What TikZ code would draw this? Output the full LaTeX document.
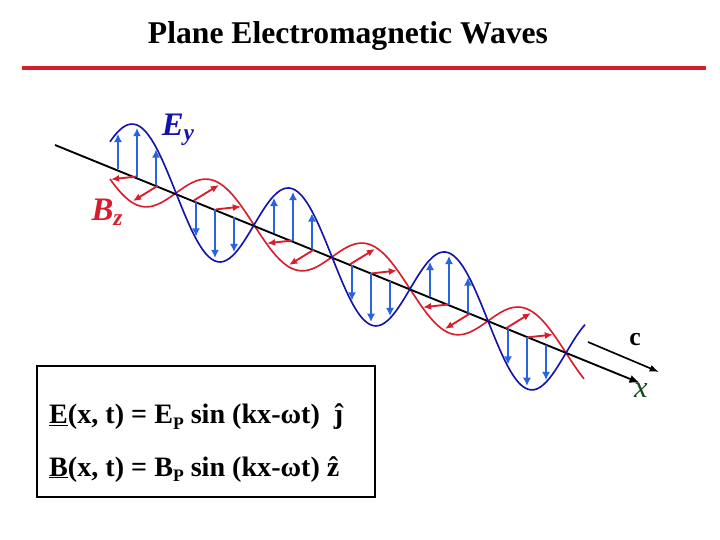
\documentclass[tikz,border=0pt]{standalone}
\usepackage{fontspec}
\setmainfont{Liberation Serif}
\usetikzlibrary{arrows.meta}
\definecolor{eblue}{RGB}{20,20,170}
\definecolor{ablue}{RGB}{40,100,220}
\definecolor{bred}{RGB}{215,30,45}
\definecolor{xgreen}{RGB}{20,70,20}
\begin{document}
\begin{tikzpicture}[x=0.03cm,y=-0.03cm,
  ecurve/.style={eblue,line width=1.4pt},
  bcurve/.style={bred,line width=1.4pt},
  earrow/.style={ablue,line width=2.3pt,-{Latex[length=7pt,width=7pt]}},
  barrow/.style={bred,line width=1.6pt,-{Latex[length=7pt,width=6pt]}},
  lbl/.style={inner sep=0pt}]
\useasboundingbox (0,0) rectangle (720,540);
\node[lbl] (title) at (348,36) {\fontsize{27pt}{30pt}\selectfont\bfseries Plane Electromagnetic Waves};
\coordinate (r1) at (22,68); \coordinate (r2) at (706,68);
\draw[bred,line width=3pt] (r1) -- (r2);
% red B curve
\draw[bcurve,domain=110:584,samples=160,smooth] plot (\x,{193+0.41*(\x-176)-28*sin(2.30769*(\x-176))});
% axis
\coordinate (a0) at (55,145); \coordinate (a1) at (640,383);
\draw[line width=1.6pt,-{Latex[length=9pt,width=7pt]}] (a0) -- (a1);
\draw[ecurve,domain=110:585,samples=160,smooth] plot (\x,{193+0.41*(\x-176)+52*sin(2.30769*(\x-176))});
% E arrows
\foreach \n in {98,176,254,332,410,488}{
  \foreach \o in {20,39,58}{
    \pgfmathsetmacro{\xx}{\n+\o}
    \pgfmathsetmacro{\yy}{193+0.41*(\xx-176)}
    \pgfmathsetmacro{\yt}{\yy+49*sin(2.30769*(\xx-176))}
    \coordinate (eb) at (\xx,\yy); \coordinate (et) at (\xx,\yt);
    \draw[earrow] (eb) -- (et);
  }
}
% B arrows pointing left-down
\foreach \n in {98,254,410}{
  \foreach \o in {38,60}{
    \pgfmathsetmacro{\xx}{\n+\o}
    \pgfmathsetmacro{\yy}{193+0.41*(\xx-176)}
    \pgfmathsetmacro{\xt}{\xx-25}
    \pgfmathsetmacro{\yt}{193+0.41*(\xt-176)-26*sin(2.30769*(\xt-176))}
    \coordinate (bb) at (\xx,\yy); \coordinate (bt) at (\xt,\yt);
    \draw[barrow] (bb) -- (bt);
  }
}
% B arrows pointing right-up
\foreach \n in {176,332,488}{
  \foreach \o in {18,40}{
    \pgfmathsetmacro{\xx}{\n+\o}
    \pgfmathsetmacro{\yy}{193+0.41*(\xx-176)}
    \pgfmathsetmacro{\xt}{\xx+25}
    \pgfmathsetmacro{\yt}{193+0.41*(\xt-176)-26*sin(2.30769*(\xt-176))}
    \coordinate (bb) at (\xx,\yy); \coordinate (bt) at (\xt,\yt);
    \draw[barrow] (bb) -- (bt);
  }
}
\coordinate (c0) at (588,342); \coordinate (c1) at (659,372);
\draw[line width=1.4pt,-{Latex[length=8pt,width=6pt]}] (c0) -- (c1);
\node[lbl] (clab) at (635,340) {\fontsize{22pt}{24pt}\selectfont\bfseries c};
\node[lbl,xgreen] (xlab) at (641,391) {\fontsize{26pt}{28pt}\selectfont\itshape x};
\node[lbl,eblue] (ey) at (178,130) {\fontsize{28pt}{30pt}\selectfont\bfseries\itshape E\raisebox{-0.35ex}{\fontsize{20pt}{22pt}\selectfont y}};
\node[lbl,bred] (bz) at (107,212) {\fontsize{28pt}{30pt}\selectfont\bfseries\itshape B\raisebox{-0.35ex}{\fontsize{20pt}{22pt}\selectfont z}};
% box
\node[draw,line width=2.5pt,minimum width=338*0.03cm,minimum height=131*0.03cm,inner sep=0pt] (box) at (206,431.5) {};
\node[lbl,anchor=base west] (e1) at (49,424) {\fontsize{24pt}{26pt}\selectfont\bfseries \underline{E}(x, t) = E\raisebox{-0.4ex}{\fontsize{15pt}{16pt}\selectfont P} sin (kx-ωt)\ \ \^{\j}};
\node[lbl,anchor=base west] (e2) at (49,476) {\fontsize{24pt}{26pt}\selectfont\bfseries \underline{B}(x, t) = B\raisebox{-0.4ex}{\fontsize{15pt}{16pt}\selectfont P} sin (kx-ωt) \^{z}};
\end{tikzpicture}
\end{document}
